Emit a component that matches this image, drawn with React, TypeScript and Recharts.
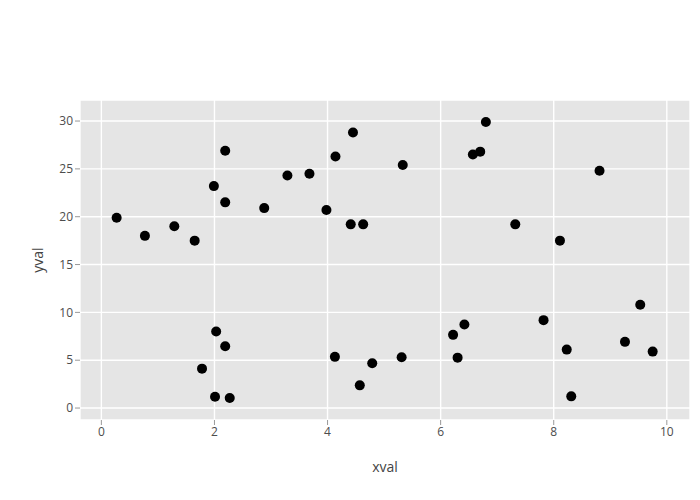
import React from "react";
import { ScatterChart, Scatter, XAxis, YAxis, CartesianGrid } from "recharts";

const xvals = [
  0.27, 0.77, 1.29, 1.65, 1.99, 2.19, 2.19, 2.88, 3.29, 3.68,
  4.45, 4.14, 3.98, 4.41, 4.63, 5.33, 6.57, 6.7, 6.8, 7.32,
  8.11, 8.81, 2.03, 2.19, 1.78, 2.01, 2.27, 4.13, 4.79, 4.57,
  5.31, 6.22, 6.42, 6.3, 7.82, 8.23, 8.31, 9.53, 9.26, 9.75,
];
const yvals = [
  19.9, 18.0, 19.0, 17.5, 23.2, 26.9, 21.5, 20.9, 24.3, 24.5,
  28.8, 26.3, 20.7, 19.2, 19.2, 25.4, 26.5, 26.8, 29.9, 19.2,
  17.5, 24.8, 8.0, 6.46, 4.12, 1.18, 1.05, 5.35, 4.68, 2.37,
  5.31, 7.65, 8.73, 5.27, 9.19, 6.11, 1.22, 10.8, 6.92, 5.9,
];
const xTicks = [0, 2, 4, 6, 8, 10];
const yTicks = [0, 5, 10, 15, 20, 25, 30];

const points = xvals.map((x, i) => ({ x, y: yvals[i] }));

const font = "'Open Sans', 'Noto Sans', sans-serif";
const tickStyle = { fill: "#4d4d4d", fontSize: 12, fontFamily: font };

const Dot = (props: any) => (
  <circle cx={props.cx} cy={props.cy} r={5} fill="#000" />
);

export default function App() {
  return (
    <div style={{ position: "absolute", left: 0, top: 0, background: "#fff" }}>
      <ScatterChart
        width={700}
        height={500}
        margin={{ top: 100, right: 10, bottom: 0, left: 0 }}
      >
        <CartesianGrid fill="#e5e5e5" stroke="#ffffff" strokeWidth={1.4} />
        <XAxis
          type="number"
          dataKey="x"
          domain={[-0.378, 10.41]}
          allowDataOverflow
          ticks={xTicks}
          height={80}
          axisLine={false}
          tickSize={5}
          tickMargin={2}
          tickLine={{ stroke: "#999" }}
          tick={tickStyle}
          label={{
            content: (p: any) => {
              const vb = p.viewBox;
              return (
                <text
                  x={vb.x + vb.width / 2}
                  y={vb.y + 52}
                  textAnchor="middle"
                  fill="#444"
                  fontSize={14}
                  fontFamily={font}
                >
                  xval
                </text>
              );
            },
          }}
        />
        <YAxis
          type="number"
          dataKey="y"
          domain={[-1.25, 32.2]}
          allowDataOverflow
          ticks={yTicks}
          width={80}
          axisLine={false}
          tickSize={5}
          tickMargin={2}
          tickLine={{ stroke: "#999" }}
          tick={tickStyle}
          label={{
            content: (p: any) => {
              const vb = p.viewBox;
              const cy = vb.y + vb.height / 2;
              return (
                <text
                  x={43}
                  y={cy}
                  textAnchor="middle"
                  transform={`rotate(-90, 43, ${cy})`}
                  fill="#444"
                  fontSize={14}
                  fontFamily={font}
                >
                  yval
                </text>
              );
            },
          }}
        />
        <Scatter data={points} shape={Dot} isAnimationActive={false} />
      </ScatterChart>
    </div>
  );
}
